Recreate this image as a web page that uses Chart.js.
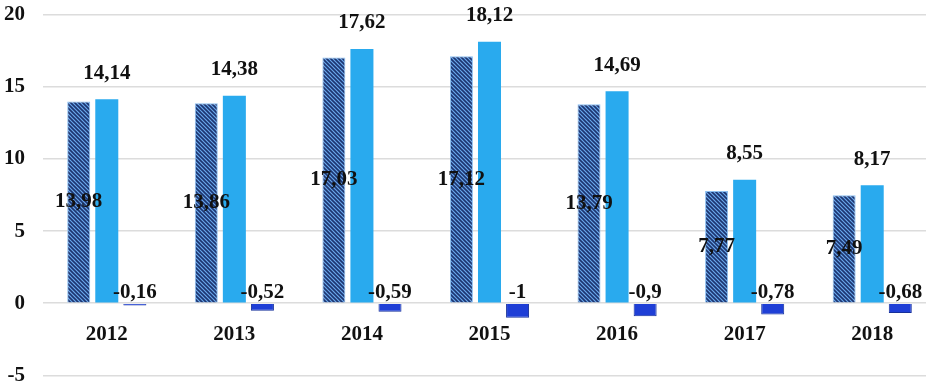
<!DOCTYPE html>
<html>
<head>
<meta charset="utf-8">
<script src="https://cdn.jsdelivr.net/npm/chart.js@4/dist/chart.umd.min.js"></script>
<style>
  html, body { margin: 0; padding: 0; background: #fff; overflow: hidden; }
  #wrap { width: 936px; height: 422px; position: absolute; left: 0; top: -16px; }
</style>
</head>
<body>
<div id="wrap"><canvas id="chart"></canvas></div>
<script>
var years = ['2012', '2013', '2014', '2015', '2016', '2017', '2018'];
var hatchedValues = [13.98, 13.86, 17.03, 17.12, 13.79, 7.77, 7.49];
var lightValues = [14.14, 14.38, 17.62, 18.12, 14.69, 8.55, 8.17];
var diffValues = [-0.16, -0.52, -0.59, -1, -0.9, -0.78, -0.68];
var yTicks = [-5, 0, 5, 10, 15, 20];

var serif = '"Liberation Serif", "Times New Roman", serif';
var labelFont = 'bold 21px ' + serif;

// diagonal hatching for the first series
var makeHatch = function () {
  var c = document.createElement('canvas');
  c.width = 4;
  c.height = 4;
  var g = c.getContext('2d');
  g.fillStyle = '#6aa8ec';
  g.fillRect(0, 0, 4, 4);
  g.strokeStyle = '#1d3570';
  g.lineWidth = 1.6;
  g.beginPath();
  g.moveTo(-1, -1); g.lineTo(5, 5);
  g.moveTo(-1, 3); g.lineTo(1, 5);
  g.moveTo(3, -1); g.lineTo(5, 1);
  g.stroke();
  return g.createPattern(c, 'repeat');
};

var fmt = function (v) {
  return String(v).replace('.', ',');
};

var valueLabels = {
  id: 'valueLabels',
  afterDatasetsDraw: function (chart) {
    var ctx = chart.ctx;
    var zero = chart.scales.y.getPixelForValue(0);
    ctx.save();
    ctx.font = labelFont;
    ctx.fillStyle = '#111';
    ctx.textAlign = 'center';
    ctx.textBaseline = 'middle';
    chart.data.datasets.forEach(function (ds, i) {
      var meta = chart.getDatasetMeta(i);
      meta.data.forEach(function (el, n) {
        var y;
        if (i == 0) {
          y = (el.y + el.base) / 2;
        } else if (i == 1) {
          y = el.y - 26;
        } else {
          y = zero - 11;
        }
        ctx.fillText(fmt(ds.data[n]), el.x, y);
      });
    });
    ctx.restore();
  }
};

var config = {
  type: 'bar',
  data: {
    labels: years,
    datasets: [
      {
        data: hatchedValues,
        backgroundColor: makeHatch(),
        borderColor: '#8fc0f0',
        borderWidth: 1
      },
      {
        data: lightValues,
        backgroundColor: '#29aaee',
        borderColor: '#29aaee',
        borderWidth: 0
      },
      {
        data: diffValues,
        backgroundColor: '#1f3fd6',
        borderColor: '#16309a',
        borderWidth: 1
      }
    ]
  },
  options: {
    responsive: true,
    maintainAspectRatio: false,
    animation: false,
    categoryPercentage: 0.66,
    barPercentage: 0.82,
    layout: {
      padding: { left: -14, right: 0, top: 0, bottom: 0 }
    },
    plugins: {
      legend: { display: false },
      tooltip: { enabled: false }
    },
    scales: {
      x: {
        position: { y: 0 },
        grid: { display: false, drawTicks: false },
        border: { display: false },
        ticks: {
          padding: 19,
          color: '#111',
          font: { family: serif, size: 21, weight: 'bold' }
        }
      },
      y: {
        min: -5,
        max: 20,
        afterBuildTicks: function (axis) {
          axis.ticks = yTicks.map(function (v) { return { value: v }; });
        },
        grid: { color: '#dcdcdc', lineWidth: 1.5, drawTicks: false },
        border: { display: false },
        ticks: {
          padding: 18,
          color: '#111',
          font: { family: serif, size: 21, weight: 'bold' }
        }
      }
    }
  },
  plugins: [valueLabels]
};

new Chart(document.getElementById('chart').getContext('2d'), config);
</script>
</body>
</html>
